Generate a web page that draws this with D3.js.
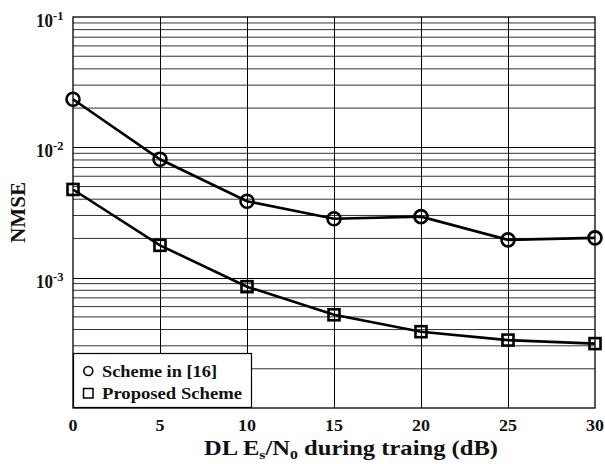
<!DOCTYPE html>
<html>
<head>
<meta charset="utf-8">
<script src="https://cdn.jsdelivr.net/npm/d3@7"></script>
<style>
  html, body { margin: 0; padding: 0; background: #fff; }
  svg { display: block; }
  text { font-family: "Liberation Serif", "Times New Roman", serif; font-weight: bold; fill: #111; }
</style>
</head>
<body>
<script>
// SNR points (dB) used during DL training
const snrDb = [0, 5, 10, 15, 20, 25, 30];
// NMSE for the reference scheme
const schemeRef = [0.0234, 0.0081, 0.00386, 0.00283, 0.00294, 0.00195, 0.00202];
// NMSE for the proposed scheme
const schemeProposed = [0.00475, 0.00177, 0.000853, 0.000519, 0.000385, 0.000332, 0.000312];
// Axis ticks
const xTicks = [0, 5, 10, 15, 20, 25, 30];
const yDecades = [-1, -2, -3];
const seriesNames = ["Scheme in [16]", "Proposed Scheme"];

const W = 605, H = 464;
const m = { left: 73, right: 10, top: 17, bottom: 56 };

const svg = d3.select("body").append("svg").attr("width", W).attr("height", H);

const x = d3.scaleLinear().domain([0, 30]).range([m.left, W - m.right]);
const y = d3.scaleLog().domain([1e-4, 1e-1]).range([H - m.bottom, m.top]);

const grid = svg.append("g");
// Horizontal grid: minor lines at 2..9 per decade, major at decades
const minorVals = [];
for (let e = -4; e < -1; e++) {
  for (let k = 2; k <= 9; k++) minorVals.push(k * Math.pow(10, e));
}
grid.selectAll("line.minor").data(minorVals).join("line")
  .attr("x1", x(0)).attr("x2", x(30))
  .attr("y1", d => y(d)).attr("y2", d => y(d))
  .attr("stroke", "#333").attr("stroke-width", 1);
grid.selectAll("line.major").data([1e-3, 1e-2]).join("line")
  .attr("x1", x(0)).attr("x2", x(30))
  .attr("y1", d => Math.round(y(d)) + 0.5).attr("y2", d => Math.round(y(d)) + 0.5)
  .attr("stroke", "#000").attr("stroke-width", 1.2);
// Vertical grid
grid.selectAll("line.v").data(xTicks.slice(1, -1)).join("line")
  .attr("x1", d => Math.round(x(d)) + 0.5).attr("x2", d => Math.round(x(d)) + 0.5)
  .attr("y1", y(1e-1)).attr("y2", y(1e-4))
  .attr("stroke", "#000").attr("stroke-width", 1);

// Frame
svg.append("rect")
  .attr("x", x(0)).attr("y", y(1e-1))
  .attr("width", x(30) - x(0)).attr("height", y(1e-4) - y(1e-1))
  .attr("fill", "none").attr("stroke", "#000").attr("stroke-width", 1.3);

// X tick labels
svg.append("g").selectAll("text").data(xTicks).join("text")
  .attr("x", d => x(d)).attr("y", 431)
  .attr("text-anchor", "middle").attr("font-size", 17.5)
  .attr("textLength", d => String(d).length * 9)
  .attr("lengthAdjust", "spacingAndGlyphs")
  .text(d => d);

// Y tick labels (10 with superscript exponent)
const yl = svg.append("g").selectAll("text").data(yDecades).join("text")
  .attr("x", 36).attr("y", d => y(Math.pow(10, d)) + 10)
  .attr("font-size", 18);
yl.append("tspan").attr("textLength", 17).attr("lengthAdjust", "spacingAndGlyphs").text("10");
yl.append("tspan").attr("dy", -7).attr("font-size", 12.5).text(d => String(d));

// Axis titles
svg.append("text")
  .attr("transform", `translate(25, ${(y(1e-1) + y(1e-4)) / 2}) rotate(-90)`)
  .attr("text-anchor", "middle").attr("font-size", 21)
  .attr("textLength", 61).attr("lengthAdjust", "spacingAndGlyphs")
  .text("NMSE");

const xt = svg.append("text")
  .attr("x", 204).attr("y", 455)
  .attr("font-size", 21)
  .attr("textLength", 294).attr("lengthAdjust", "spacingAndGlyphs");
xt.append("tspan").text("DL E");
xt.append("tspan").attr("font-size", 13.5).attr("dy", 4).text("s");
xt.append("tspan").attr("dy", -4).text("/N");
xt.append("tspan").attr("font-size", 13.5).attr("dy", 4).text("0");
xt.append("tspan").attr("dy", -4).text(" during traing (dB)");

// Curves
const line = d3.line().x(d => x(d[0])).y(d => y(d[1]));
const refPts = snrDb.map((s, i) => [s, schemeRef[i]]);
const propPts = snrDb.map((s, i) => [s, schemeProposed[i]]);

[refPts, propPts].forEach(pts => {
  svg.append("path").datum(pts).attr("d", line)
    .attr("fill", "none").attr("stroke", "#000").attr("stroke-width", 2.6);
});

svg.append("g").selectAll("circle").data(refPts).join("circle")
  .attr("cx", d => x(d[0])).attr("cy", d => y(d[1])).attr("r", 6.5)
  .attr("fill", "none").attr("stroke", "#000").attr("stroke-width", 2.6);

const sq = 11;
svg.append("g").selectAll("rect").data(propPts).join("rect")
  .attr("x", d => x(d[0]) - sq / 2).attr("y", d => y(d[1]) - sq / 2)
  .attr("width", sq).attr("height", sq)
  .attr("fill", "none").attr("stroke", "#000").attr("stroke-width", 2.6);

// Legend
const lg = svg.append("g");
lg.append("rect")
  .attr("x", 73.5).attr("y", 353.5).attr("width", 178).attr("height", 54)
  .attr("fill", "#fff").attr("stroke", "#000").attr("stroke-width", 1.2);
lg.append("circle").attr("cx", 88.3).attr("cy", 371).attr("r", 4.5)
  .attr("fill", "none").attr("stroke", "#000").attr("stroke-width", 1.6);
lg.append("rect").attr("x", 83.5).attr("y", 388.5).attr("width", 9.5).attr("height", 9.5)
  .attr("fill", "none").attr("stroke", "#000").attr("stroke-width", 1.5);
lg.selectAll("text").data(seriesNames).join("text")
  .attr("x", 102).attr("y", (d, i) => 376.5 + i * 22)
  .attr("font-size", 17)
  .attr("textLength", (d, i) => [115, 140][i])
  .attr("lengthAdjust", "spacingAndGlyphs")
  .text(d => d);
</script>
</body>
</html>
